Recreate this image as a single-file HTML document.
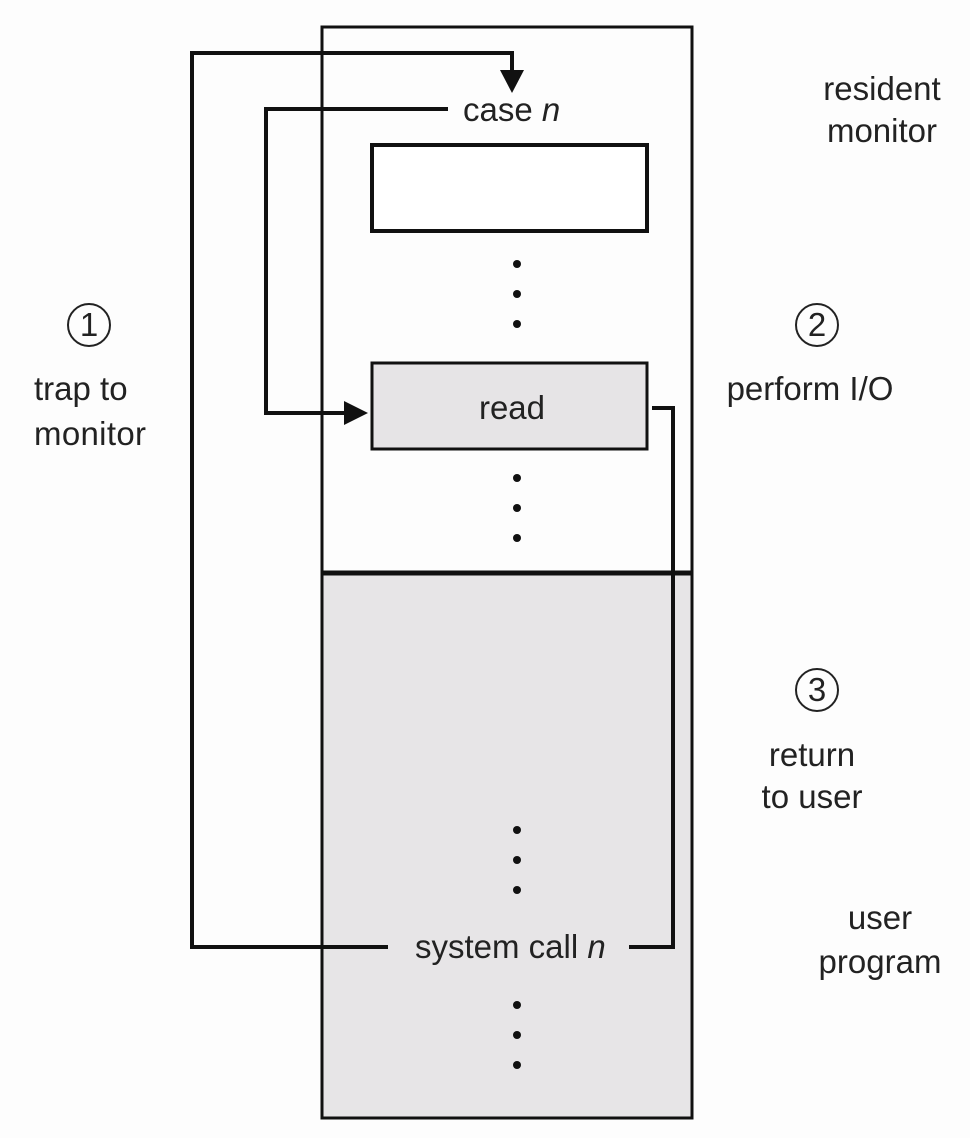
<!DOCTYPE html>
<html><head><style>
html,body{margin:0;padding:0;background:#fff;}
svg{display:block;}
text{font-family:"Liberation Sans",Arial,sans-serif;font-size:33px;fill:#222;}
</style></head><body>
<svg width="970" height="1138" viewBox="0 0 970 1138" xmlns="http://www.w3.org/2000/svg">
<rect x="0" y="0" width="970" height="1138" fill="#fdfdfd"/>
<rect x="322" y="573" width="370" height="545" fill="#e7e5e7"/>
<rect x="322" y="27" width="370" height="1091" fill="none" stroke="#111" stroke-width="3"/>
<line x1="322" y1="573" x2="692" y2="573" stroke="#111" stroke-width="5"/>
<rect x="372" y="145" width="275" height="86" fill="#fff" stroke="#111" stroke-width="4"/>
<rect x="372" y="363" width="275" height="86" fill="#e6e4e6" stroke="#111" stroke-width="3"/>
<text x="512" y="419" text-anchor="middle">read</text>
<g fill="#111">
<circle cx="517" cy="264" r="4"/><circle cx="517" cy="294" r="4"/><circle cx="517" cy="324" r="4"/>
<circle cx="517" cy="478" r="4"/><circle cx="517" cy="508" r="4"/><circle cx="517" cy="538" r="4"/>
<circle cx="517" cy="830" r="4"/><circle cx="517" cy="860" r="4"/><circle cx="517" cy="890" r="4"/>
<circle cx="517" cy="1005" r="4"/><circle cx="517" cy="1035" r="4"/><circle cx="517" cy="1065" r="4"/>
</g>
<g fill="none" stroke="#111" stroke-width="4">
<polyline points="388,947 192,947 192,53 512,53 512,72"/>
<polyline points="448,109 266,109 266,413 346,413"/>
<polyline points="652,408 673,408 673,947 629,947"/>
</g>
<polygon points="500,70 524,70 512,93" fill="#111"/>
<polygon points="344,401 344,425 368,413" fill="#111"/>
<text x="463" y="121">case <tspan font-style="italic">n</tspan></text>
<text x="415" y="958">system call <tspan font-style="italic">n</tspan></text>
<text x="882" y="100" text-anchor="middle">resident</text>
<text x="882" y="142" text-anchor="middle">monitor</text>
<g fill="none" stroke="#222" stroke-width="2">
<circle cx="89" cy="325" r="21"/><circle cx="817" cy="325" r="21"/><circle cx="817" cy="690" r="21"/>
</g>
<text x="89" y="336" text-anchor="middle" font-size="28">1</text>
<text x="817" y="336" text-anchor="middle" font-size="28">2</text>
<text x="817" y="701" text-anchor="middle" font-size="28">3</text>
<text x="34" y="400">trap to</text>
<text x="34" y="445" textLength="112">monitor</text>
<text x="810" y="400" text-anchor="middle">perform I/O</text>
<text x="812" y="766" text-anchor="middle">return</text>
<text x="812" y="808" text-anchor="middle">to user</text>
<text x="880" y="929" text-anchor="middle">user</text>
<text x="880" y="973" text-anchor="middle">program</text>
</svg>
</body></html>
